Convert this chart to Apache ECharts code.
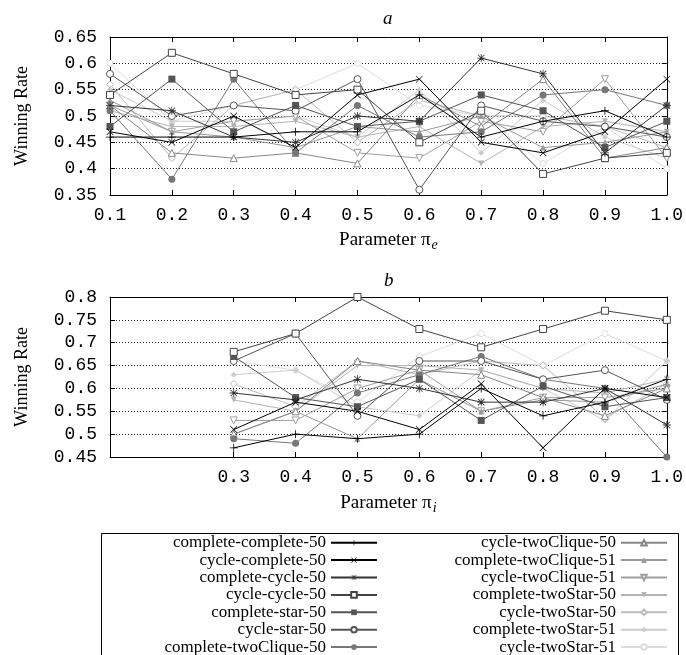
<!DOCTYPE html>
<html>
<head>
<meta charset="utf-8">
<script src="https://cdn.jsdelivr.net/npm/echarts@6/dist/echarts.min.js"></script>
<style>
  html, body { margin: 0; padding: 0; background: #fff; }
  #chart { width: 686px; height: 655px; }
</style>
</head>
<body>
<div id="chart"></div>
<script>
// Parameter values along the x axis of both panels
const paramTicks = ['0.1', '0.2', '0.3', '0.4', '0.5', '0.6', '0.7', '0.8', '0.9', '1.0'];

const seriesNames = [
  'complete-complete-50', 'cycle-complete-50', 'complete-cycle-50', 'cycle-cycle-50',
  'complete-star-50', 'cycle-star-50', 'complete-twoClique-50',
  'cycle-twoClique-50', 'complete-twoClique-51', 'cycle-twoClique-51',
  'complete-twoStar-50', 'cycle-twoStar-50', 'complete-twoStar-51', 'cycle-twoStar-51'
];

// Panel a: winning rate vs pi_e (0.1 .. 1.0)
const a_completeComplete50 = [0.46, 0.46, 0.46, 0.47, 0.47, 0.54, 0.46, 0.49, 0.51, 0.46];
const a_cycleComplete50    = [0.47, 0.45, 0.50, 0.44, 0.54, 0.57, 0.45, 0.43, 0.47, 0.57];
const a_completeCycle50    = [0.52, 0.51, 0.46, 0.45, 0.50, 0.49, 0.61, 0.58, 0.43, 0.52];
const a_cycleCycle50       = [0.54, 0.62, 0.58, 0.54, 0.55, 0.45, 0.51, 0.39, 0.42, 0.43];
const a_completeStar50     = [0.48, 0.57, 0.47, 0.52, 0.48, 0.49, 0.54, 0.51, 0.44, 0.49];
const a_cycleStar50        = [0.58, 0.50, 0.52, 0.51, 0.57, 0.36, 0.52, 0.49, 0.48, 0.46];
const a_completeTwoClique50 = [0.51, 0.38, 0.57, 0.43, 0.52, 0.46, 0.47, 0.54, 0.55, 0.52];
const a_cycleTwoClique50   = [0.52, 0.43, 0.42, 0.43, 0.41, 0.54, 0.48, 0.57, 0.42, 0.44];
const a_completeTwoClique51 = [0.53, 0.47, 0.46, 0.44, 0.48, 0.47, 0.50, 0.44, 0.45, 0.47];
const a_cycleTwoClique51   = [0.52, 0.47, 0.49, 0.50, 0.43, 0.42, 0.49, 0.47, 0.57, 0.42];
const a_completeTwoStar50  = [0.51, 0.48, 0.48, 0.49, 0.46, 0.48, 0.41, 0.48, 0.49, 0.47];
const a_cycleTwoStar50     = [0.56, 0.42, 0.52, 0.55, 0.45, 0.53, 0.50, 0.50, 0.48, 0.44];
const a_completeTwoStar51  = [0.55, 0.49, 0.49, 0.50, 0.46, 0.55, 0.43, 0.53, 0.46, 0.42];
const a_cycleTwoStar51     = [0.60, 0.49, 0.52, 0.55, 0.60, 0.52, 0.50, 0.41, 0.48, 0.40];

// Panel b: winning rate vs pi_i (0.3 .. 1.0)
const b_completeComplete50 = [0.47, 0.50, 0.49, 0.50, 0.60, 0.54, 0.57, 0.62];
const b_cycleComplete50    = [0.51, 0.57, 0.55, 0.51, 0.61, 0.47, 0.60, 0.58];
const b_completeCycle50    = [0.59, 0.575, 0.62, 0.60, 0.57, 0.57, 0.60, 0.52];
const b_cycleCycle50       = [0.68, 0.72, 0.80, 0.73, 0.69, 0.73, 0.77, 0.75];
const b_completeStar50     = [0.67, 0.58, 0.56, 0.62, 0.53, 0.605, 0.56, 0.58];
const b_cycleStar50        = [0.66, 0.72, 0.54, 0.66, 0.66, 0.62, 0.64, 0.575];
const b_completeTwoClique50 = [0.49, 0.48, 0.59, 0.63, 0.67, 0.62, 0.60, 0.45];
const b_cycleTwoClique50   = [0.50, 0.55, 0.66, 0.64, 0.63, 0.58, 0.54, 0.60];
const b_completeTwoClique51 = [0.50, 0.55, 0.49, 0.62, 0.55, 0.575, 0.57, 0.61];
const b_cycleTwoClique51   = [0.53, 0.53, 0.60, 0.64, 0.55, 0.58, 0.58, 0.60];
const b_completeTwoStar50  = [0.575, 0.55, 0.65, 0.65, 0.64, 0.60, 0.59, 0.62];
const b_cycleTwoStar50     = [0.61, 0.56, 0.66, 0.63, 0.66, 0.65, 0.535, 0.61];
const b_completeTwoStar51  = [0.63, 0.64, 0.56, 0.54, 0.64, 0.60, 0.53, 0.66];
const b_cycleTwoStar51     = [0.66, 0.64, 0.57, 0.67, 0.72, 0.65, 0.72, 0.66];

const panelA = [a_completeComplete50, a_cycleComplete50, a_completeCycle50, a_cycleCycle50,
  a_completeStar50, a_cycleStar50, a_completeTwoClique50, a_cycleTwoClique50,
  a_completeTwoClique51, a_cycleTwoClique51, a_completeTwoStar50, a_cycleTwoStar50,
  a_completeTwoStar51, a_cycleTwoStar51];
const panelB = [b_completeComplete50, b_cycleComplete50, b_completeCycle50, b_cycleCycle50,
  b_completeStar50, b_cycleStar50, b_completeTwoClique50, b_cycleTwoClique50,
  b_completeTwoClique51, b_cycleTwoClique51, b_completeTwoStar50, b_cycleTwoStar50,
  b_completeTwoStar51, b_cycleTwoStar51];

// gray ramp, one shade per configuration
const shades = ['#000000', '#000000', '#333333', '#444444', '#555555', '#555555', '#777777',
  '#888888', '#999999', '#a0a0a0', '#b4b4b4', '#bbbbbb', '#cccccc', '#dddddd'];

const PLUS = 'path://M4.5,0H5.5V4.5H10V5.5H5.5V10H4.5V5.5H0V4.5H4.5Z';
const CROSS = 'path://M0.7,0L5,4.3L9.3,0L10,0.7L5.7,5L10,9.3L9.3,10L5,5.7L0.7,10L0,9.3L4.3,5L0,0.7Z';
const STAR = 'path://M4.5,0H5.5V4.5H10V5.5H5.5V10H4.5V5.5H0V4.5H4.5Z' +
  'M1.3,0.6L5,4.3L8.7,0.6L9.4,1.3L5.7,5L9.4,8.7L8.7,9.4L5,5.7L1.3,9.4L0.6,8.7L4.3,5L0.6,1.3Z';
const DOWN_TRI = 'path://M0,0L10,0L5,9Z';

// [symbol, hollow, size]
const marks = [
  [PLUS, false, 8], [CROSS, false, 7], [STAR, false, 8], ['rect', true, 7],
  ['rect', false, 7], ['circle', true, 7], ['circle', false, 7],
  ['triangle', true, 7], ['triangle', false, 6], [DOWN_TRI, true, 7],
  [DOWN_TRI, false, 6], ['diamond', true, 7], ['diamond', false, 6], ['circle', true, 6]
];

const monoFont = 'Liberation Mono';
const serifFont = 'Liberation Serif';

function xAxisFor(gridIndex, position, showLabels, startIdx) {
  return {
    type: 'category', gridIndex: gridIndex, position: position,
    data: paramTicks, boundaryGap: false,
    axisLine: { show: true, onZero: false, lineStyle: { color: '#000', width: 1 } },
    axisTick: { show: true, inside: true, length: 5, lineStyle: { color: '#000' },
      interval: function (i) { return i >= startIdx; } },
    axisLabel: { show: showLabels, color: '#000', fontFamily: monoFont, fontSize: 18, margin: 11,
      interval: function (i) { return i >= startIdx; } },
    splitLine: { show: false }
  };
}

function yAxisFor(gridIndex, position, min, max, showLabels) {
  return {
    type: 'value', gridIndex: gridIndex, position: position,
    min: min, max: max, interval: 0.05,
    axisLine: { show: true, lineStyle: { color: '#000', width: 1 } },
    axisTick: { show: true, inside: true, length: 5, lineStyle: { color: '#000' } },
    axisLabel: { show: showLabels, color: '#000', fontFamily: monoFont, fontSize: 18, margin: 13,
      formatter: function (v) { return String(Math.round(v * 100) / 100); } },
    splitLine: { show: showLabels, lineStyle: { color: '#222', type: [1, 2], width: 1 } },
    name: showLabels ? 'Winning Rate' : '',
    nameLocation: 'middle', nameRotate: 90, nameGap: 79,
    nameTextStyle: { color: '#000', fontFamily: serifFont, fontSize: 18 }
  };
}

const xName = function (sub, gap) {
  return {
    name: '{m|Parameter π}{s|' + sub + '}',
    nameLocation: 'middle', nameGap: gap,
    nameTextStyle: {
      rich: {
        m: { fontFamily: serifFont, fontSize: 19, color: '#000', lineHeight: 24 },
        s: { fontFamily: serifFont, fontSize: 14, fontStyle: 'italic', color: '#000',
          lineHeight: 24, padding: [11, 0, 0, 1] }
      }
    }
  };
};

const xAxes = [
  Object.assign(xAxisFor(0, 'bottom', true, 0), xName('e', 33)),
  xAxisFor(0, 'top', false, 0),
  Object.assign(xAxisFor(1, 'bottom', true, 2), xName('i', 34)),
  xAxisFor(1, 'top', false, 2)
];
const yAxes = [
  yAxisFor(0, 'left', 0.35, 0.65, true),
  yAxisFor(0, 'right', 0.35, 0.65, false),
  yAxisFor(1, 'left', 0.45, 0.8, true),
  yAxisFor(1, 'right', 0.45, 0.8, false)
];

const series = [];
seriesNames.forEach(function (name, k) {
  const c = shades[k];
  const m = marks[k];
  const item = m[1]
    ? { color: '#fff', borderColor: c, borderWidth: 1 }
    : { color: c, borderColor: c, borderWidth: 0 };
  const base = {
    name: name, type: 'line', symbol: m[0], symbolSize: m[2], showSymbol: true,
    lineStyle: { color: c, width: 1 }, itemStyle: item,
    emphasis: { disabled: true }, animation: false, z: 20 - k
  };
  series.push(Object.assign({}, base, { xAxisIndex: 0, yAxisIndex: 0, data: panelA[k] }));
  series.push(Object.assign({}, base, { xAxisIndex: 2, yAxisIndex: 2,
    data: [null, null].concat(panelB[k]) }));
});

const legendBase = {
  orient: 'vertical', align: 'right', top: 534, padding: 0, height: 300,
  itemWidth: 46, itemHeight: 7, itemGap: 0,
  textStyle: { fontFamily: serifFont, fontSize: 17, lineHeight: 17.4, color: '#000',
    padding: [0, 0, 0, 0] },
  selectedMode: false
};

const chart = echarts.init(document.getElementById('chart'), null, { renderer: 'canvas' });
chart.setOption({
  backgroundColor: '#fff',
  animation: false,
  grid: [
    { left: 110, top: 37, width: 558, height: 158 },
    { left: 110, top: 297, width: 558, height: 160 }
  ],
  xAxis: xAxes,
  yAxis: yAxes,
  legend: [
    Object.assign({}, legendBase, { right: 308, data: seriesNames.slice(0, 7) }),
    Object.assign({}, legendBase, { right: 18, data: seriesNames.slice(7) })
  ],
  graphic: [
    { type: 'text', left: 383, top: 9,
      style: { text: 'a', fontFamily: serifFont, fontStyle: 'italic', fontSize: 19, fill: '#000' } },
    { type: 'text', left: 384, top: 271,
      style: { text: 'b', fontFamily: serifFont, fontStyle: 'italic', fontSize: 19, fill: '#000' } },
    { type: 'rect', shape: { x: 101.5, y: 533.5, width: 577, height: 140 },
      style: { fill: 'none', stroke: '#000', lineWidth: 1 }, z: -1 }
  ],
  series: series
});
</script>
</body>
</html>
